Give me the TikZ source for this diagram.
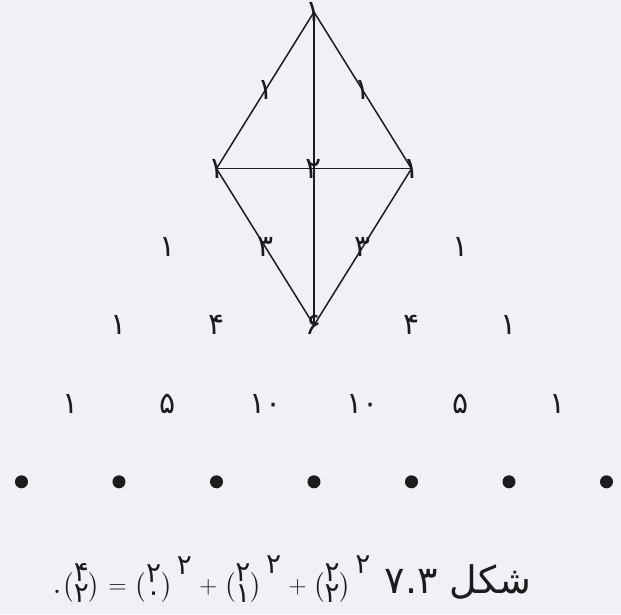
\documentclass[tikz,border=0pt]{standalone}
\usepackage{amsmath}
\usepackage{fontspec}
\usepackage{tikz}
\TeXXeTstate=1
\newfontfamily\farsi[Script=Arabic]{DejaVu Sans}
\newcommand{\fa}[1]{\text{\farsi #1}}
\definecolor{paper}{RGB}{239,241,245}
\definecolor{ink}{RGB}{28,28,30}
\tikzset{
  num/.style={font=\farsi\fontsize{30}{30}\selectfont,text=ink,inner sep=0pt},
  kite/.style={draw=ink,line width=1.5pt,line join=round},
  rowdot/.style={circle,fill=ink,minimum size=13pt,inner sep=0pt},
  caption/.style={font=\fontsize{40}{44}\selectfont,text=ink,inner sep=0pt}
}

\begin{document}
\begin{tikzpicture}[x=48.75pt,y=78.3pt]
  \fill[paper] (-314pt,12pt) rectangle (307pt,-602pt);
  \useasboundingbox (-314pt,12pt) rectangle (307pt,-602pt);
  % rows of the triangle
  \node[num] (n00) at (0,0) {۱};
  \foreach \k/\v in {0/۱,1/۱} {\node[num] (n1\k) at ({2*\k-1},-1) {\v};}
  \foreach \k/\v in {0/۱,1/۲,2/۱} {\node[num] (n2\k) at ({2*\k-2},-2) {\v};}
  \foreach \k/\v in {0/۱,1/۳,2/۳,3/۱} {\node[num] (n3\k) at ({2*\k-3},-3) {\v};}
  \foreach \k/\v in {0/۱,1/۴,2/۶,3/۴,4/۱} {\node[num] (n4\k) at ({2*\k-4},-4) {\v};}
  \foreach \k/\v in {0/۱,1/۵,2/۱۰,3/۱۰,4/۵,5/۱}
    {\node[num] (n5\k) at ({2*\k-5},-5) {\v};}
  \foreach \k in {0,...,6} {\node[rowdot] (n6\k) at ({2*\k-6},-6) {};}
  % the kite over the first rows
  \draw[kite] (n00.center) -- (n20.center) -- (n42.center) -- (n22.center) -- cycle;
  \draw[kite] (n20.center) -- (n22.center);
  \draw[kite] (n00.center) -- (n42.center);
  % caption
  \node[caption] (cap) at (-22pt,-567pt)
    {\thickmuskip=6mu \medmuskip=5mu
     .$\binom{\fa{۴}}{\fa{۲}}=\binom{\fa{۲}}{\fa{۰}}^{\,\fa{۲}}
      +\binom{\fa{۲}}{\fa{۱}}^{\,\fa{۲}}+\binom{\fa{۲}}{\fa{۲}}^{\,\fa{۲}}$
     \hspace{2pt}{\farsi\fontsize{38}{40}\selectfont ۷.۳ \beginR شکل\endR}};
\end{tikzpicture}
\end{document}
